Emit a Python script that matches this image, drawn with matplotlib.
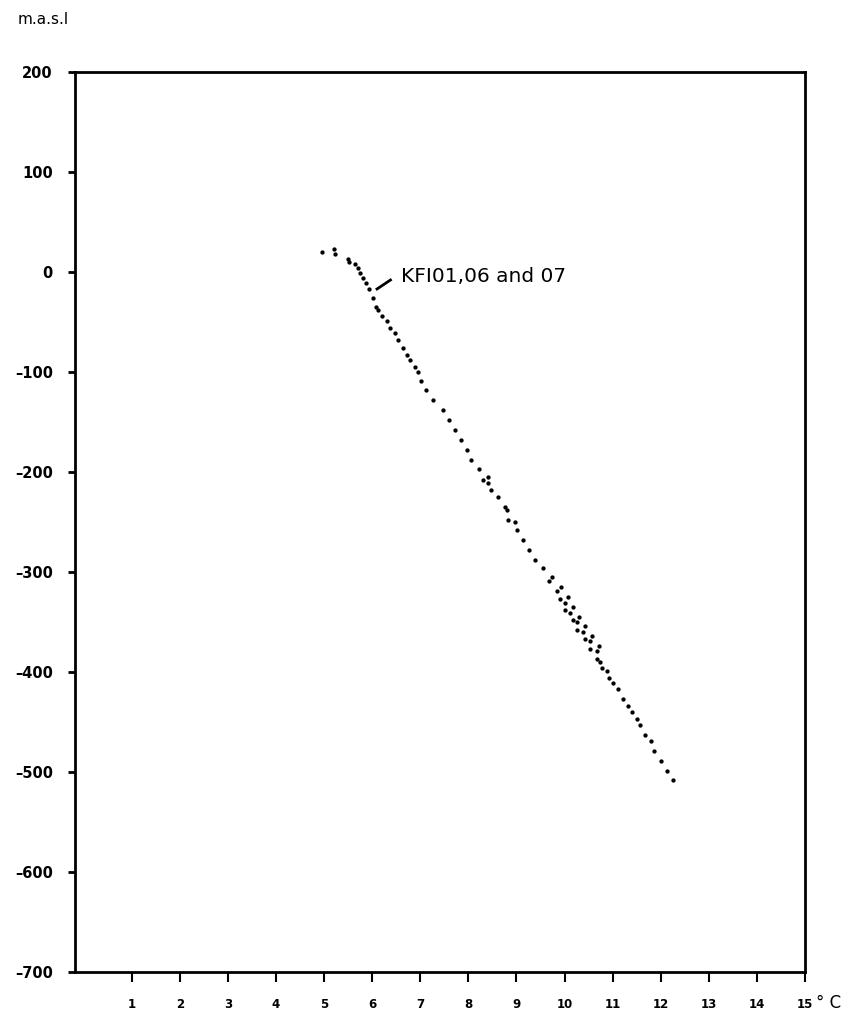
import numpy as np
import matplotlib.pyplot as plt

temp = [4.95, 5.2, 5.22, 5.5, 5.52, 5.64, 5.7, 5.75, 5.81, 5.87, 5.93,
        6.02, 6.08, 6.12, 6.2, 6.31, 6.37, 6.47, 6.53, 6.64, 6.72, 6.78,
        6.89, 6.95, 7.01, 7.12, 7.26, 7.47, 7.6, 7.72, 7.85, 7.97, 8.05,
        8.22, 8.3, 8.41, 8.41, 8.47, 8.61, 8.76, 8.8, 8.82, 8.97, 9.01,
        9.13, 9.26, 9.38, 9.55, 9.74, 9.67, 9.92, 9.84, 10.07, 9.9, 10.01,
        10.17, 10.01, 10.11, 10.3, 10.17, 10.26, 10.42, 10.26, 10.38,
        10.57, 10.42, 10.53, 10.71, 10.53, 10.67, 10.67, 10.74, 10.78,
        10.88, 10.92, 11.0, 11.12, 11.21, 11.32, 11.4, 11.51, 11.57,
        11.68, 11.79, 11.85, 12.01, 12.13, 12.26]
elev = [20, 23, 18, 13, 10, 8, 4, -1, -6, -11, -17,
        -26, -35, -38, -44, -49, -56, -61, -68, -76, -83, -88,
        -95, -100, -109, -118, -128, -138, -148, -158, -168, -178, -188,
        -197, -208, -205, -211, -218, -225, -235, -238, -248, -250, -258,
        -268, -278, -288, -296, -305, -309, -315, -319, -325, -327, -331,
        -335, -338, -341, -345, -348, -350, -354, -358, -360,
        -364, -367, -369, -374, -377, -379, -387, -390, -396,
        -399, -406, -411, -417, -427, -434, -440, -447, -453,
        -463, -469, -479, -489, -499, -508]

yticks = list(range(-700, 201, 100))
xticks = list(range(1, 16))

fig = plt.figure(figsize=(8.45, 10.13), dpi=100)
ax = fig.add_axes([75 / 845, 1 - 972 / 1013, 730 / 845, 900 / 1013])

ax.plot(temp, elev, 'o', color='black', markersize=3.1, markeredgewidth=0)

ax.set_xlim(-0.18, 15)
ax.set_ylim(-700, 200)
ax.set_yticks(yticks)
ax.set_yticklabels([str(v).replace('-', '\u2013') for v in yticks],
                   fontsize=10.5, fontweight='bold')
ax.set_xticks(xticks)
ax.set_xticklabels([str(v) for v in xticks], fontsize=8.5, fontweight='bold')
ax.tick_params(axis='y', direction='out', length=5, width=2, pad=11)
ax.tick_params(axis='x', direction='out', length=7, width=1.5, pad=12)
for s in ax.spines.values():
    s.set_linewidth(2)

# label on the profile
ax.plot([6.1, 6.38], [-17, -8], color='black', linewidth=2)
ax.text(6.6, -5, 'KFI01,06 and 07', fontsize=14.5, va='center', ha='left')

# unit next to the last tick label
ax.annotate('\u00b0 C', xy=(1, 0), xycoords='axes fraction',
            xytext=(8, -22), textcoords='offset points',
            fontsize=12, va='center', ha='left')

fig.text(18 / 845, 1 - 20 / 1013, 'm.a.s.l', fontsize=11, va='center', ha='left')

fig.savefig('out.png', dpi=100)
